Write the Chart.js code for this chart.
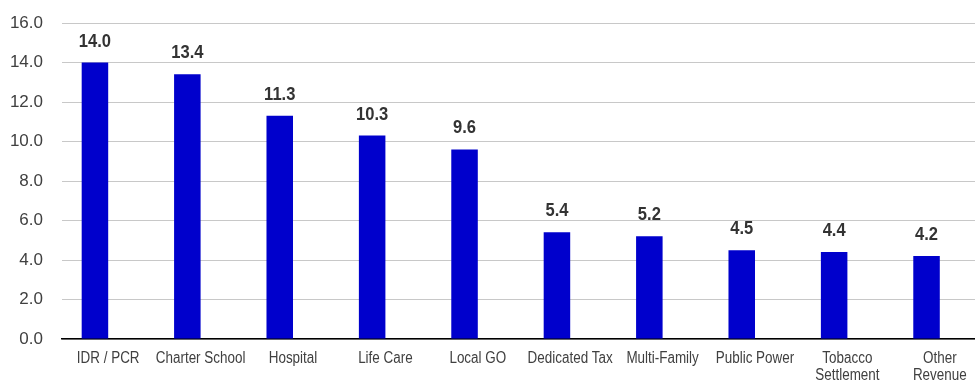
<!DOCTYPE html>
<html>
<head>
<meta charset="utf-8">
<script src="https://cdn.jsdelivr.net/npm/chart.js@4/dist/chart.umd.min.js"></script>
<style>
  html, body { margin: 0; padding: 0; background: #fff; overflow: hidden; }
  #wrap { position: relative; width: 990px; height: 381px; }
</style>
</head>
<body>
<div id="wrap"><canvas id="c"></canvas></div>
<script>
// Sectors and their values
const categories = [
  'IDR / PCR', 'Charter School', 'Hospital', 'Life Care', 'Local GO',
  'Dedicated Tax', 'Multi-Family', 'Public Power', ['Tobacco', 'Settlement'], ['Other', 'Revenue']
];
const values = [14.0, 13.4, 11.3, 10.3, 9.6, 5.4, 5.2, 4.5, 4.4, 4.2];
// Empty companion series that keeps the grouped bar slot beside each value
const spacer = categories.map(() => null);
const yTicks = [0, 2, 4, 6, 8, 10, 12, 14, 16];

const FONT = '"Liberation Sans", Arial, sans-serif';

// Value labels above each bar
const valueLabels = {
  id: 'valueLabels',
  afterDatasetsDraw(chart) {
    const ctx = chart.ctx;
    const meta = chart.getDatasetMeta(0);
    ctx.save();
    ctx.font = 'bold 18px ' + FONT;
    ctx.fillStyle = '#333333';
    ctx.textAlign = 'center';
    ctx.textBaseline = 'alphabetic';
    meta.data.forEach((bar, i) => {
      ctx.save();
      ctx.translate(bar.x, bar.y - 16);
      ctx.scale(0.92, 1.04);
      ctx.fillText(values[i].toFixed(1), 0, 0);
      ctx.restore();
    });
    ctx.restore();
  }
};

// Condensed category labels under the axis
const categoryLabels = {
  id: 'categoryLabels',
  afterDraw(chart) {
    const ctx = chart.ctx;
    const xs = chart.scales.x;
    const squeeze = 0.84;
    ctx.save();
    ctx.font = '16px ' + FONT;
    ctx.fillStyle = '#404040';
    ctx.textAlign = 'center';
    ctx.textBaseline = 'alphabetic';
    categories.forEach((lab, i) => {
      const lines = Array.isArray(lab) ? lab : [lab];
      const x = xs.getPixelForTick(i);
      lines.forEach((line, j) => {
        ctx.save();
        ctx.translate(x, xs.top + 24 + j * 17);
        ctx.scale(squeeze, 1);
        ctx.fillText(line, 0, 0);
        ctx.restore();
      });
    });
    ctx.restore();
  }
};

new Chart(document.getElementById('c'), {
  type: 'bar',
  data: {
    labels: categories,
    datasets: [
      { data: values, backgroundColor: '#0000cc', borderWidth: 0 },
      { data: spacer, backgroundColor: '#0000cc', borderWidth: 0 }
    ]
  },
  options: {
    responsive: true,
    maintainAspectRatio: false,
    animation: false,
    layout: { padding: { top: 23, right: 4, left: 0, bottom: 0 } },
    datasets: { bar: { categoryPercentage: 0.574, barPercentage: 1.0 } },
    plugins: { legend: { display: false }, tooltip: { enabled: false } },
    scales: {
      x: {
        grid: { display: false, drawTicks: false },
        border: { display: true, color: '#000000', width: 1.5 },
        ticks: { display: false },
        afterFit(scale) { scale.height = 42; }
      },
      y: {
        min: 0, max: 16,
        afterBuildTicks(scale) { scale.ticks = yTicks.map(v => ({ value: v })); },
        grid: { color: '#c8c8c8', lineWidth: 1, drawTicks: false },
        border: { display: false },
        ticks: {
          color: '#404040',
          font: { family: FONT, size: 17 },
          padding: 19,
          callback: v => Number(v).toFixed(1)
        },
        afterFit(scale) {
          scale.width = 62;
          scale.paddingTop = 0;
          scale.paddingBottom = 0;
        }
      }
    }
  },
  plugins: [valueLabels, categoryLabels]
});
</script>
</body>
</html>
